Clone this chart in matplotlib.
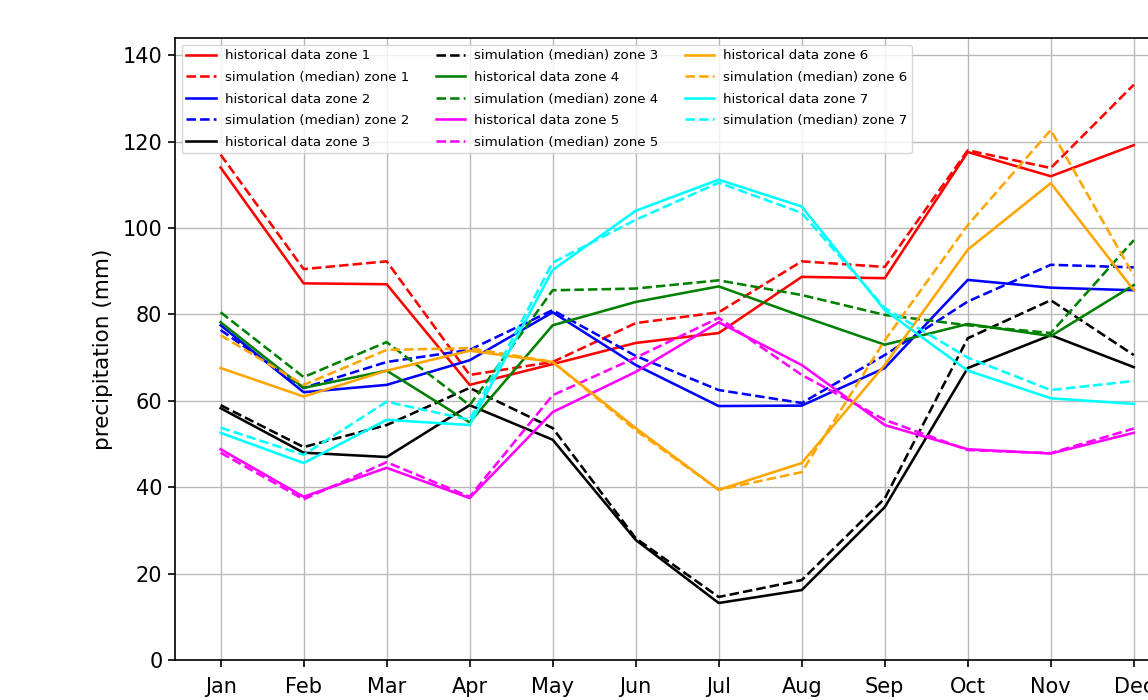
import matplotlib
matplotlib.use("Agg")
import matplotlib.pyplot as plt

months = ["Jan", "Feb", "Mar", "Apr", "May", "Jun",
          "Jul", "Aug", "Sep", "Oct", "Nov", "Dec"]
colors = ["red", "blue", "black", "green", "magenta", "orange", "cyan"]

# historical monthly precipitation (mm), one list per zone
hist_zone1 = [114, 87.2, 87, 63.7, 68.5, 73.4, 75.7, 88.7, 88.4, 117.6, 112, 119.2]
hist_zone2 = [77.5, 62, 63.7, 69.4, 80.5, 68.3, 58.8, 58.9, 67.6, 88, 86.2, 85.6]
hist_zone3 = [58.3, 48, 47, 59, 51, 27.8, 13.2, 16.2, 35.4, 67.6, 75.2, 67.8]
hist_zone4 = [78.2, 63, 67, 55, 77.5, 82.9, 86.5, 79.6, 73, 77.8, 75, 86.8]
hist_zone5 = [48.8, 37.8, 44.5, 37.5, 57.4, 66.7, 78.2, 68.3, 54.4, 48.8, 47.8, 52.6]
hist_zone6 = [67.6, 61, 67, 71.6, 69, 53.7, 39.4, 45.6, 68.3, 95, 110.4, 85.6]
hist_zone7 = [52.6, 45.6, 55.6, 54.4, 90.3, 104, 111.2, 105, 81, 67, 60.6, 59.3]

# simulated (median) monthly precipitation (mm), one list per zone
sim_zone1 = [117, 90.5, 92.3, 66, 69, 78, 80.5, 92.3, 91, 118, 113.9, 133.2]
sim_zone2 = [76.4, 63, 69, 71.8, 81, 70.4, 62.5, 59.5, 70.6, 83, 91.5, 90.9]
sim_zone3 = [59, 49.3, 54.4, 63, 53.7, 28.2, 14.6, 18.5, 37.4, 74.5, 83.3, 70.6]
sim_zone4 = [80.5, 65.5, 73.6, 59, 85.6, 86, 87.9, 84.5, 79.9, 77.5, 75.7, 97.2]
sim_zone5 = [48, 37.2, 45.8, 37.8, 61.3, 70, 79.2, 66, 55.6, 48.6, 47.9, 53.6]
sim_zone6 = [75.2, 63.7, 71.8, 72.2, 69, 53.2, 39.4, 43.5, 74, 100.7, 122.7, 89]
sim_zone7 = [53.8, 47.5, 59.8, 55.6, 92, 101.9, 110.5, 103.5, 81.5, 70, 62.5, 64.6]

hist = [hist_zone1, hist_zone2, hist_zone3, hist_zone4, hist_zone5, hist_zone6, hist_zone7]
sims = [sim_zone1, sim_zone2, sim_zone3, sim_zone4, sim_zone5, sim_zone6, sim_zone7]

fig = plt.figure(figsize=(11.48, 7.0), dpi=100)
# the right side of the axes runs past the edge of the picture
ax = fig.add_axes([0.1524, 0.0571, 0.875, 0.8886])

x = list(range(len(months)))
for i, (h, s) in enumerate(zip(hist, sims)):
    zone = i + 1
    ax.plot(x, h, color=colors[i], linestyle="-", linewidth=1.85,
            label="historical data zone %d" % zone)
    ax.plot(x, s, color=colors[i], linestyle="--", linewidth=1.85,
            label="simulation (median) zone %d" % zone)

ax.set_xlim(-0.55, 11.55)
ax.set_ylim(0, 144)
ax.set_yticks([0, 20, 40, 60, 80, 100, 120, 140])
ax.set_xticks(x)
ax.set_xticklabels(months)
ax.tick_params(labelsize=15, length=5, width=1.2, pad=4)
ax.tick_params(axis="x", pad=7)
for sp in ax.spines.values():
    sp.set_linewidth(1.2)
ax.grid(True, color="#b8b8b8", linewidth=1.0)
ax.set_ylabel("precipitation (mm)", fontsize=15.5, labelpad=7)

ax.legend(loc="upper left", ncol=3, fontsize=9.65, handlelength=2.2,
          handletextpad=0.65, columnspacing=2.0, labelspacing=0.64,
          borderpad=0.35, borderaxespad=0.5)

fig.savefig("out.png", dpi=100)
